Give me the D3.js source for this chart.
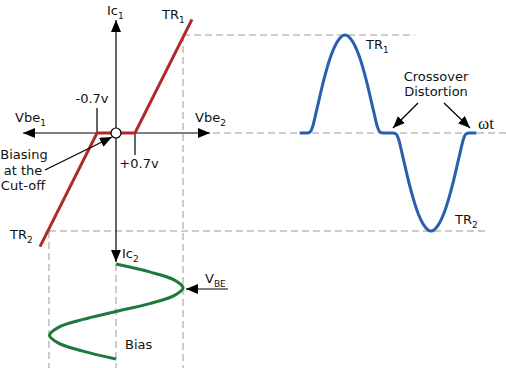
<!DOCTYPE html>
<html>
<head>
<meta charset="utf-8">
<script src="https://cdn.jsdelivr.net/npm/d3@7"></script>
<style>
  html, body { margin: 0; padding: 0; background: #fff; }
  svg text { font-family: "DejaVu Sans", Verdana, sans-serif; font-size: 13px; fill: #111; }
</style>
</head>
<body>
<svg width="506" height="368"></svg>
<script>
// transfer characteristic (Vbe in volts, Ic normalised)
const transferVbe = [-2.8, -0.7, 0.7, 2.8];
const transferIc = [-1.16, 0, 0, 1.16];

// output current waveform (phase in degrees, normalised output)
const waveDeg = [-5, 10, 17, 22, 30, 45, 60, 75, 90, 105, 120, 135, 150, 158, 163, 170, 180, 190, 197, 202, 210, 225, 240, 255, 270, 285, 300, 315, 330, 338, 343, 350, 365];
const waveOut = [0, 0, 0.01, 0.06, 0.22, 0.53, 0.78, 0.94, 1, 0.94, 0.78, 0.53, 0.22, 0.06, 0.01, 0, 0, 0, -0.01, -0.06, -0.22, -0.53, -0.78, -0.94, -1, -0.94, -0.78, -0.53, -0.22, -0.06, -0.01, 0, 0];

// input base-emitter signal (phase in degrees, Vbe in volts)
const inputDeg = [0, 30, 60, 90, 120, 150, 180, 210, 240, 270, 300, 330, 360];
const inputVbe = [0, 1.24, 2.14, 2.47, 2.14, 1.24, 0, -1.22, -2.12, -2.45, -2.12, -1.22, 0];

const peakVbe = 2.47;
const thresholdVbe = 0.7;

const svg = d3.select('svg');

const x = d3.scaleLinear().domain([-3.5, 3.5]).range([21, 211]);      // Vbe
const y = d3.scaleLinear().domain([-1, 1]).range([231, 35]);          // Ic
const t = d3.scaleLinear().domain([0, 360]).range([302, 474]);        // output phase
const p = d3.scaleLinear().domain([0, 360]).range([264, 359]);        // input phase

const defs = svg.append('defs');
defs.append('marker')
  .attr('id', 'arrow')
  .attr('viewBox', '0 0 12 10')
  .attr('refX', 12).attr('refY', 5)
  .attr('markerWidth', 12).attr('markerHeight', 10)
  .attr('markerUnits', 'userSpaceOnUse')
  .attr('orient', 'auto-start-reverse')
  .append('path').attr('d', 'M0,0 L12,5 L0,10 Z').attr('fill', '#000');

const grey = '#9a9a9a';
const dashed = (x1, y1, x2, y2) => svg.append('line')
  .attr('x1', x1).attr('y1', y1).attr('x2', x2).attr('y2', y2)
  .attr('stroke', grey).attr('stroke-width', 1).attr('stroke-dasharray', '7,4');

// guide lines
dashed(x(peakVbe), y(1), 415, y(1));
dashed(x(peakVbe), y(1), x(peakVbe), 368);
dashed(213, y(0), 506, y(0));
dashed(x(-peakVbe), y(-1), 488, y(-1));
dashed(x(-peakVbe), y(-1), x(-peakVbe), 368);
dashed(x(0), 264, x(0), 368);

const solid = (x1, y1, x2, y2) => svg.append('line')
  .attr('x1', x1).attr('y1', y1).attr('x2', x2).attr('y2', y2)
  .attr('stroke', '#000').attr('stroke-width', 1.2);

// axes
solid(x.range()[0] + 2, y(0), x.range()[1] - 1, y(0))
  .attr('marker-start', 'url(#arrow)').attr('marker-end', 'url(#arrow)');
solid(x(0), 20, x(0), 262)
  .attr('marker-start', 'url(#arrow)').attr('marker-end', 'url(#arrow)');

// threshold ticks
solid(x(-thresholdVbe), 108, x(-thresholdVbe), y(0));
solid(x(thresholdVbe), y(0), x(thresholdVbe), 155);

// transfer curve
svg.append('path')
  .datum(d3.zip(transferVbe, transferIc))
  .attr('fill', 'none').attr('stroke', '#b02a2a').attr('stroke-width', 3)
  .attr('d', d3.line().x(d => x(d[0])).y(d => y(d[1])));

svg.append('circle')
  .attr('cx', x(0)).attr('cy', y(0)).attr('r', 5)
  .attr('fill', '#fff').attr('stroke', '#000').attr('stroke-width', 1.2);

// output waveform
svg.append('path')
  .datum(d3.zip(waveDeg, waveOut))
  .attr('fill', 'none').attr('stroke', '#2a5fae').attr('stroke-width', 3)
  .attr('d', d3.line().x(d => t(d[0])).y(d => y(d[1])).curve(d3.curveMonotoneX));

// input signal
svg.append('path')
  .datum(d3.zip(inputDeg, inputVbe))
  .attr('fill', 'none').attr('stroke', '#1d7a3a').attr('stroke-width', 3)
  .attr('d', d3.line().x(d => x(d[1])).y(d => p(d[0])).curve(d3.curveCatmullRom));

// pointer arrows
solid(45, 170, 112, 137).attr('marker-end', 'url(#arrow)');
solid(418, 103, 393, 128).attr('marker-end', 'url(#arrow)');
solid(444, 103, 470, 128).attr('marker-end', 'url(#arrow)');
solid(228, 289, 186, 289).attr('marker-end', 'url(#arrow)');

// labels
const label = (tx, ty, main, sub, anchor) => {
  const el = svg.append('text').attr('x', tx).attr('y', ty).attr('text-anchor', anchor || 'start');
  el.append('tspan').text(main);
  if (sub) el.append('tspan').attr('dy', 4).attr('font-size', 9).text(sub);
  return el;
};

label(107, 15, 'Ic', '1');
label(162, 19, 'TR', '1');
label(15, 122, 'Vbe', '1');
label(195, 122, 'Vbe', '2');
label(92, 103, '-0.7v', null, 'middle');
label(139, 168, '+0.7v', null, 'middle');
label(24, 159, 'Biasing', null, 'middle');
label(23, 175, 'at the', null, 'middle');
label(23, 190, 'Cut-off', null, 'middle');
label(10, 239, 'TR', '2');
label(122, 258, 'Ic', '2');
label(205, 283, 'V', 'BE');
label(125, 349, 'Bias');
label(366, 49, 'TR', '1');
label(436, 81, 'Crossover', null, 'middle');
label(436, 96, 'Distortion', null, 'middle');
label(455, 224, 'TR', '2');
svg.append('text').attr('x', 478).attr('y', 129)
  .style('font-family', '"Liberation Serif", "Times New Roman", serif').style('font-size', '17px')
  .text('ωt');
</script>
</body>
</html>
